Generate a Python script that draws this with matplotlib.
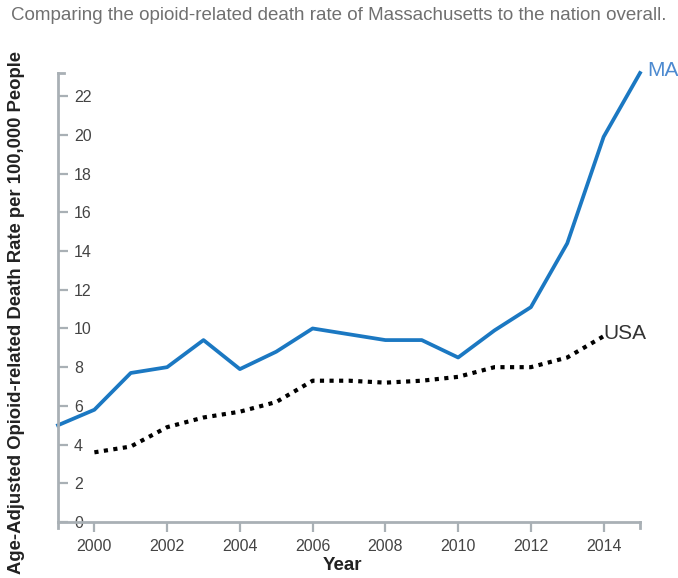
import numpy as np
import matplotlib.pyplot as plt
from matplotlib.lines import Line2D

plt.rcParams['font.family'] = ['Liberation Sans', 'DejaVu Sans']

# Data
years_ma = list(range(1999, 2016))
rate_ma = [5.0, 5.8, 7.7, 8.0, 9.4, 7.9, 8.8, 10.0, 9.7, 9.4, 9.4, 8.5, 9.9, 11.1, 14.4, 19.9, 23.2]
years_usa = list(range(2000, 2015))
rate_usa = [3.6, 3.9, 4.9, 5.4, 5.7, 6.2, 7.3, 7.3, 7.2, 7.3, 7.5, 8.0, 8.0, 8.5, 9.6]
x_ticks = list(range(2000, 2015, 2))
y_ticks = list(range(0, 23, 2))

W, H = 678, 578
fig = plt.figure(figsize=(W / 100, H / 100), dpi=100)
ax = fig.add_axes([58 / W, 56 / H, (640 - 58) / W, (505 - 56) / H])

axis_col = '#a9b0b5'
ma_col = '#1b78c2'

ax.plot(years_ma, rate_ma, color=ma_col, lw=2.7, solid_joinstyle='round', clip_on=False)
ax.plot(years_usa, rate_usa, color='black', lw=3, linestyle=(0, (1, 1.3)),
        dash_capstyle='butt', clip_on=False)

ax.set_xlim(1999, 2015)
ax.set_ylim(0, max(rate_ma))

for s in ['top', 'right']:
    ax.spines[s].set_visible(False)
for s in ['left', 'bottom']:
    ax.spines[s].set_color(axis_col)
    ax.spines[s].set_linewidth(2)

ax.set_xticks(x_ticks)
ax.set_yticks(y_ticks)
ax.tick_params(axis='x', direction='out', length=7, width=1.6, color=axis_col,
               labelsize=11.5, labelcolor='#444444', pad=5)
ax.tick_params(axis='y', direction='in', length=7, width=1.6, color=axis_col,
               labelsize=11.5, labelcolor='#444444', pad=-11.5)
for lbl in ax.get_yticklabels():
    lbl.set_horizontalalignment('left')

# outer ticks at ends of the axes
ax.add_line(Line2D([1999, 1999], [0, -0.3], color=axis_col, lw=2, clip_on=False))
ax.add_line(Line2D([2015, 2015], [0, -0.3], color=axis_col, lw=2, clip_on=False))
ax.add_line(Line2D([1999, 1999.17], [max(rate_ma)] * 2, color=axis_col, lw=2, clip_on=False))

ax.text(2015.2, rate_ma[-1] + 0.15, 'MA', color='#4d8ad0', fontsize=15, va='center', ha='left')
ax.text(2014.0, rate_usa[-1] + 0.15, 'USA', color='#333333', fontsize=15, va='center', ha='left')

ax.set_xlabel('')
fig.text(342 / W, 1 - 565 / H, 'Year', fontsize=13.5, fontweight='bold', color='#222222',
         ha='center', va='center')
fig.text(17 / W, 1 - 312 / H, 'Age-Adjusted Opioid-related Death Rate per 100,000 People',
         rotation=90, fontsize=13.3, fontweight='bold', color='#222222', ha='center', va='center')
fig.text(11 / W, 1 - 15 / H,
         'Comparing the opioid-related death rate of Massachusetts to the nation overall.',
         fontsize=13.5, color='#707070', ha='left', va='center')

fig.savefig('out.png', dpi=100)
